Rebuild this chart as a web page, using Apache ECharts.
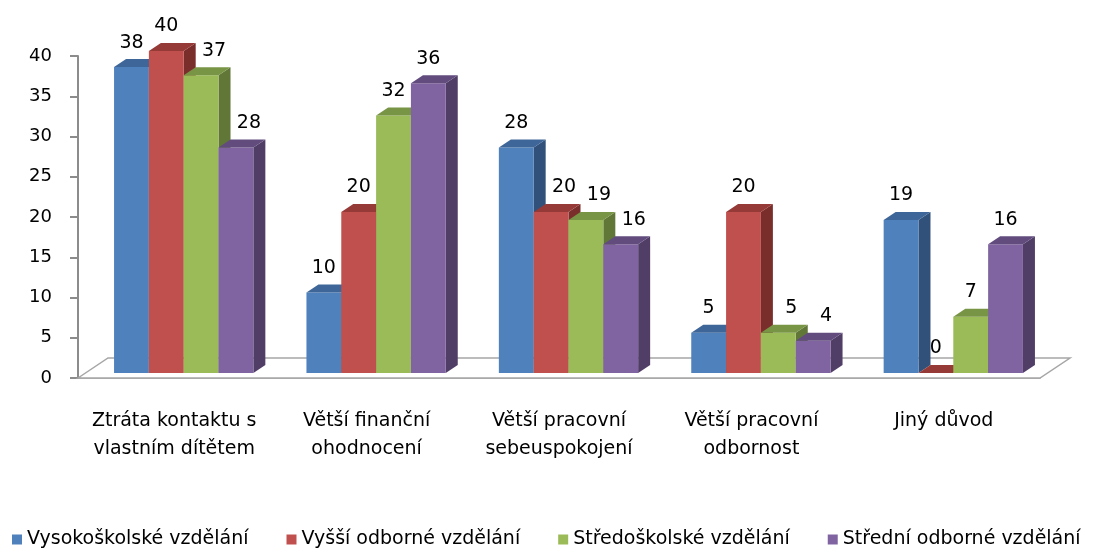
<!DOCTYPE html>
<html>
<head>
<meta charset="utf-8">
<script src="https://cdn.jsdelivr.net/npm/echarts@6/dist/echarts.min.js"></script>
<style>html,body{margin:0;padding:0;background:#fff;}#c{width:1095px;height:550px;}</style>
</head>
<body>
<div id="c"></div>
<script>
const categories = ['Ztráta kontaktu s\nvlastním dítětem', 'Větší finanční\nohodnocení', 'Větší pracovní\nsebeuspokojení', 'Větší pracovní\nodbornost', 'Jiný důvod'];
const seriesNames = ['Vysokoškolské vzdělání', 'Vyšší odborné vzdělání', 'Středoškolské vzdělání', 'Střední odborné vzdělání'];
const vysokoskolske = [38, 10, 28, 5, 19];
const vyssiOdborne = [40, 20, 20, 20, 0];
const stredoskolske = [37, 32, 19, 5, 7];
const stredniOdborne = [28, 36, 16, 4, 16];
const yTicks = [0, 5, 10, 15, 20, 25, 30, 35, 40];

const seriesValues = [vysokoskolske, vyssiOdborne, stredoskolske, stredniOdborne];
const FRONT = ['#4F81BD', '#C0504D', '#9BBB59', '#8064A2'];
const TOP = ['#3E6698', '#963A38', '#789445', '#624C7E'];
const SIDE = ['#31517A', '#7A2E2C', '#617737', '#503E67'];
const FONT = 'DejaVu Sans';
const BAR_FRAC = 0.181, DX = 9.5, DY = -5, SX = 12, SY = -8;
const FLOOR_X = 30, FLOOR_Y = -20;

function makeRender(si) {
  return function (params, api) {
    const ci = api.value(0), v = api.value(1);
    const base = api.coord([ci, 0]);
    const top = api.coord([ci, v]);
    const band = api.size([1, 0])[0];
    const bw = band * BAR_FRAC;
    const x0 = base[0] - 2 * bw + si * bw + DX;
    const yb = base[1] + DY, yt = top[1] + DY;
    // nudge the label right when the previous bar in the group is taller (avoids its side face)
    const prev = si > 0 ? seriesValues[si - 1][ci] : -1;
    const lx = x0 + bw / 2 + ((v > 0 && prev > v) ? SX + 1 : 0);
    return {
      type: 'group',
      children: [
        { type: 'polygon', shape: { points: [[x0 + bw, yt], [x0 + bw + SX, yt + SY], [x0 + bw + SX, yb + SY], [x0 + bw, yb]] }, style: { fill: SIDE[si] } },
        { type: 'rect', shape: { x: x0, y: yt, width: bw, height: yb - yt }, style: { fill: FRONT[si] } },
        { type: 'polygon', shape: { points: [[x0, yt], [x0 + SX, yt + SY], [x0 + bw + SX, yt + SY], [x0 + bw, yt]] }, style: { fill: TOP[si] } },
        { type: 'text', z2: 100, style: { text: String(v), x: lx, y: yt + SY - 7, align: 'center', verticalAlign: 'bottom', fill: '#000', font: '19px "' + FONT + '"' } }
      ]
    };
  };
}

const series = [{
  type: 'custom', name: 'floor', silent: true, z: 1,
  data: [[0, 0]],
  renderItem: function (params, api) {
    const cs = params.coordSys;
    const x = cs.x, y = cs.y + cs.height, w = cs.width;
    return { type: 'polygon', shape: { points: [[x, y], [x + FLOOR_X, y + FLOOR_Y], [x + w + FLOOR_X, y + FLOOR_Y], [x + w, y]] }, style: { fill: '#fff', stroke: '#a6a6a6', lineWidth: 1.5 } };
  }
}];
seriesValues.forEach(function (vals, si) {
  series.push({
    type: 'custom', name: seriesNames[si], z: 2 + si,
    itemStyle: { color: FRONT[si] },
    encode: { x: 0, y: 1 },
    data: vals.map(function (v, i) { return [i, v]; }),
    renderItem: makeRender(si)
  });
});

const chart = echarts.init(document.getElementById('c'));
chart.setOption({
  animation: false,
  grid: { left: 78, right: 55, top: 56, bottom: 172 },
  xAxis: {
    type: 'category', data: categories,
    axisLine: { lineStyle: { color: '#9a9a9a', width: 1.5 } },
    axisTick: { length: 8, lineStyle: { color: '#9a9a9a', width: 1.5 } },
    axisLabel: { color: '#000', fontFamily: FONT, fontSize: 19, lineHeight: 28, margin: 29, interval: 0 }
  },
  yAxis: {
    type: 'value', min: 0, max: 40, interval: 5,
    axisLine: { show: true, lineStyle: { color: '#8c8c8c', width: 2 } },
    axisTick: { show: true, length: 8, lineStyle: { color: '#8c8c8c', width: 2 } },
    splitLine: { show: false },
    axisLabel: { color: '#000', fontFamily: FONT, fontSize: 18, margin: 26, formatter: function (v) { return yTicks.indexOf(v) >= 0 ? String(v) : ''; } }
  },
  legend: {
    data: seriesNames, left: 12, right: 0, top: 530, padding: 0, icon: 'rect', itemWidth: 10, itemHeight: 10, itemGap: 38,
    textStyle: { color: '#000', fontFamily: FONT, fontSize: 19 }
  },
  series: series
});
</script>
</body>
</html>
